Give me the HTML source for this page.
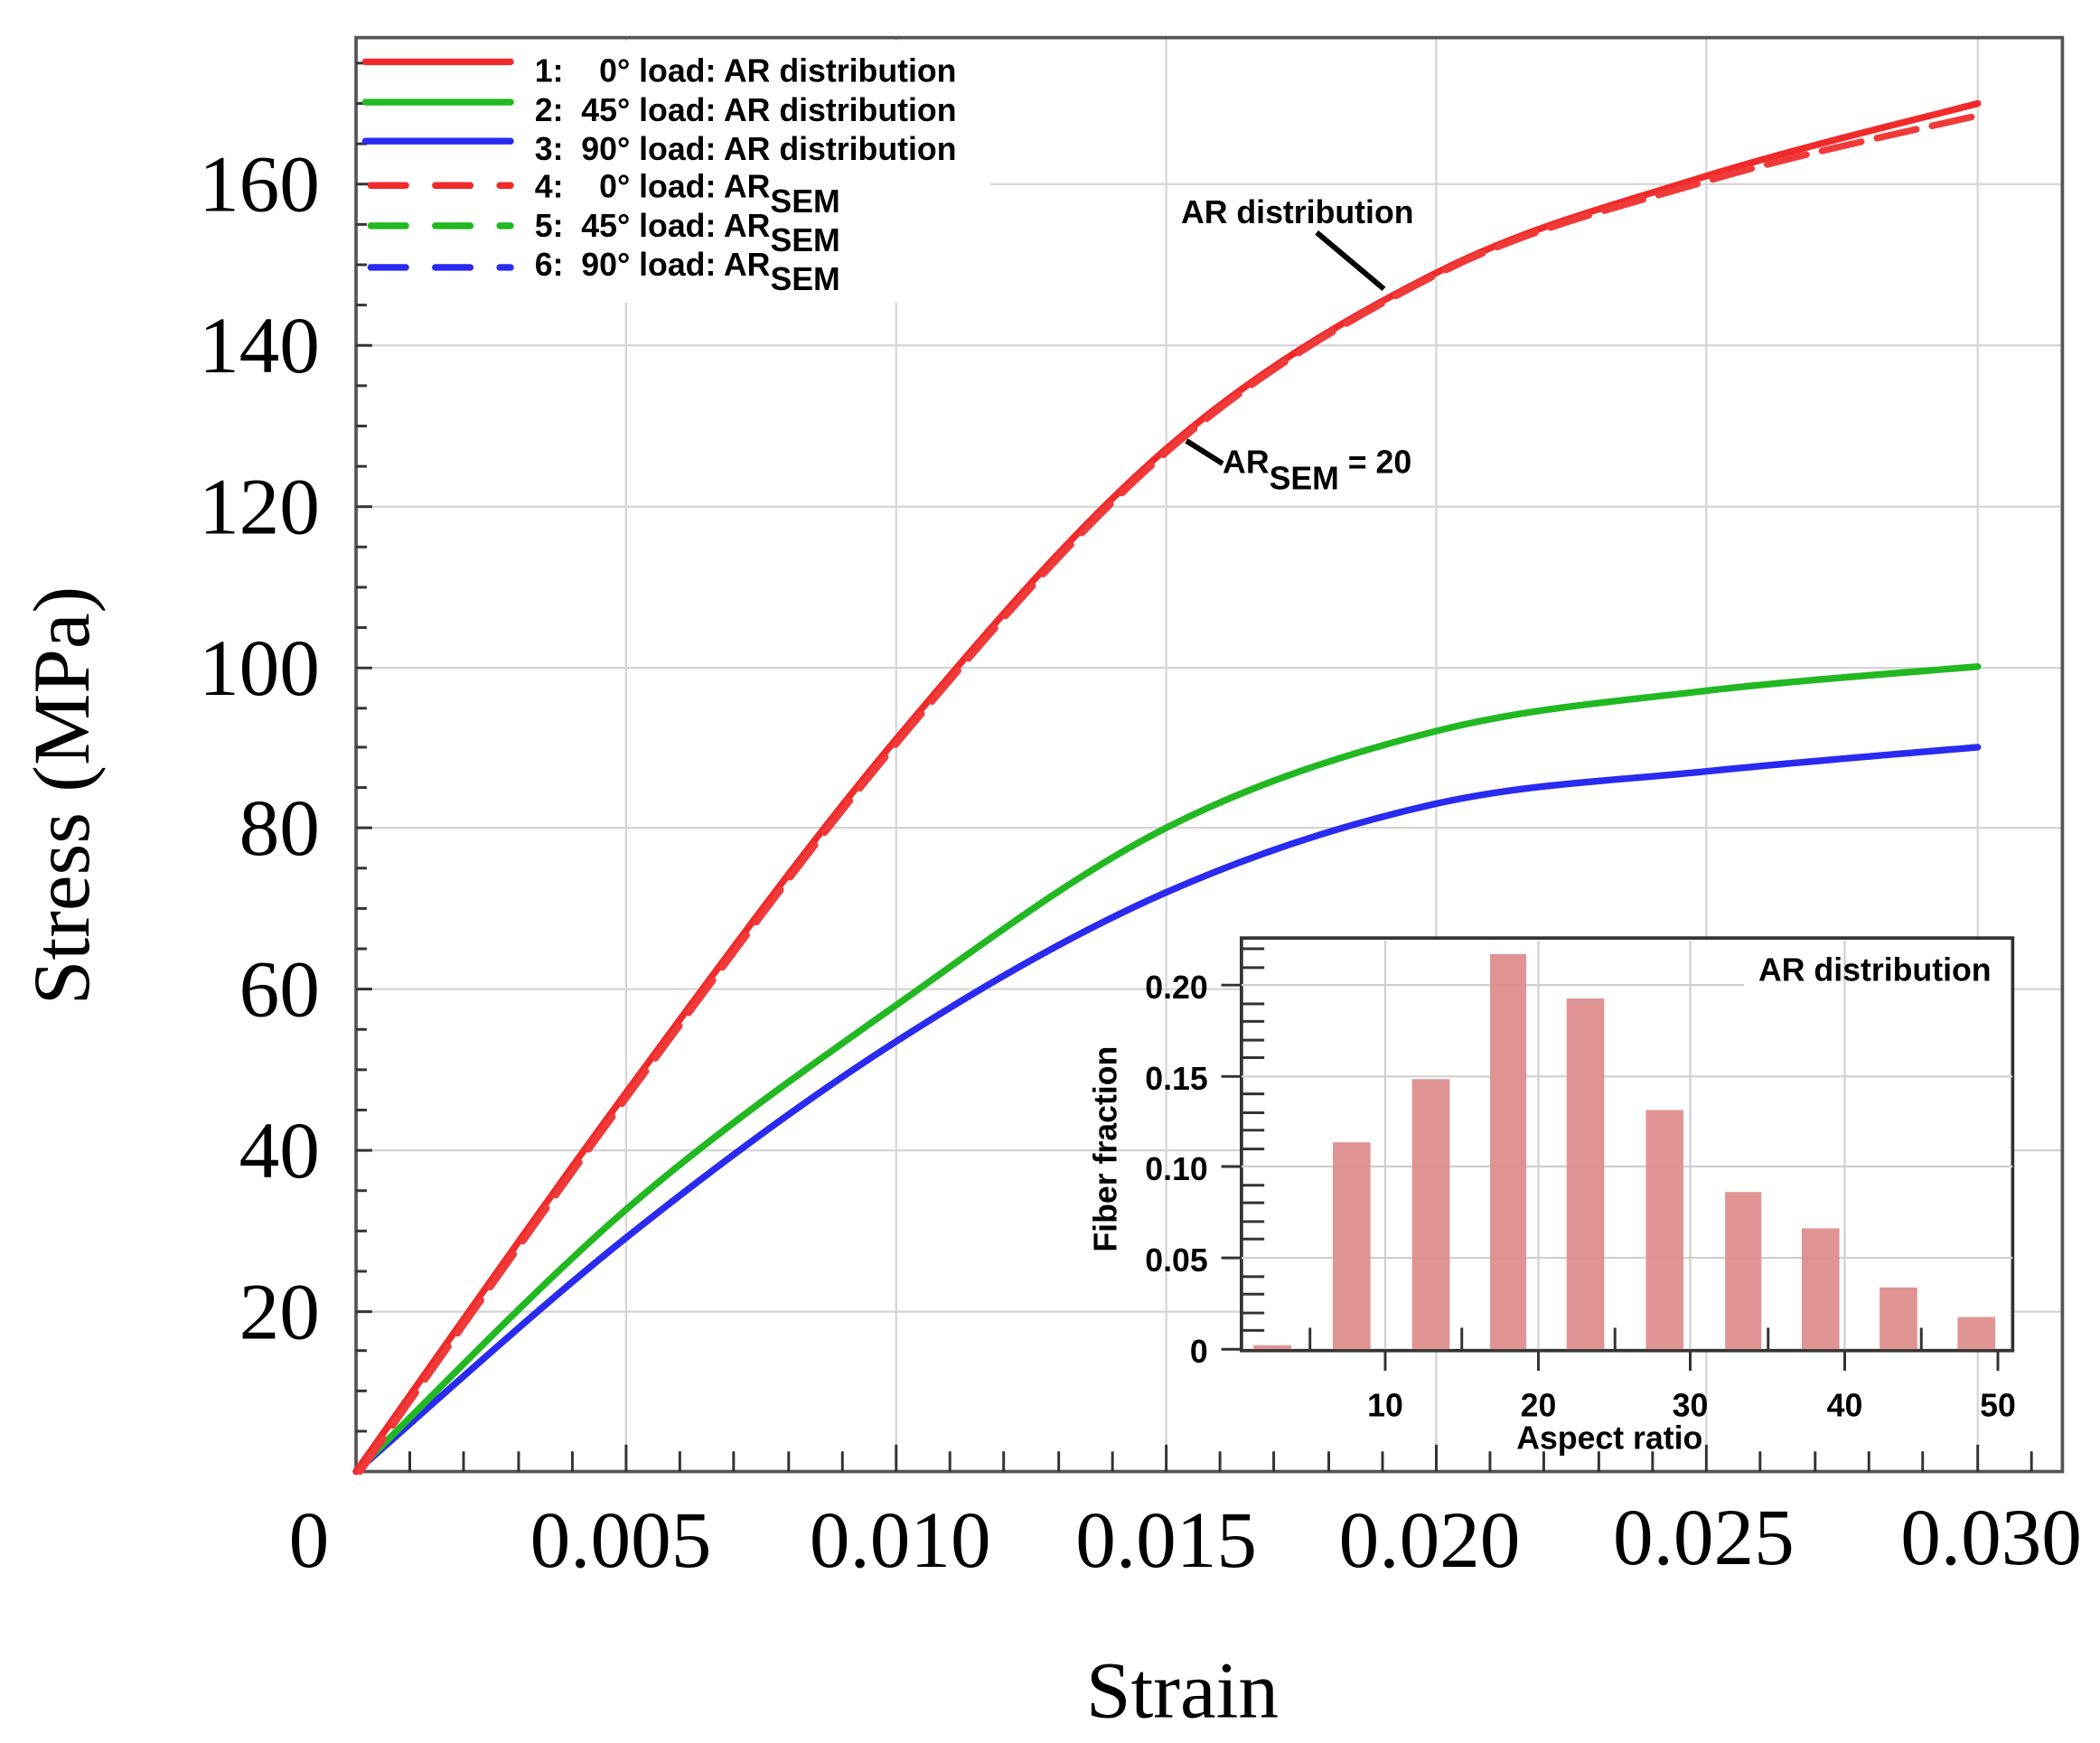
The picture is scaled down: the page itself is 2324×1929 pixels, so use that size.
<!DOCTYPE html>
<html><head><meta charset="utf-8"><style>
html,body{margin:0;padding:0;background:#fff;}
svg{display:block;}
.tl{font-family:"Liberation Serif",serif;font-size:60px;fill:#000;}
.lg{font-family:"Liberation Sans",sans-serif;font-size:24px;font-weight:bold;fill:#000;}
.sm{font-family:"Liberation Sans",sans-serif;font-size:24px;font-weight:bold;fill:#000;}
</style></head><body>
<svg width="2324" height="1929" viewBox="0 0 1563 1297" preserveAspectRatio="none" xmlns="http://www.w3.org/2000/svg">
<rect width="1563" height="1297" fill="#fff"/>
<g stroke="#d4d4d4" stroke-width="1.5">
<line x1="466" y1="28" x2="466" y2="1095"/><line x1="667" y1="28" x2="667" y2="1095"/>
<line x1="868" y1="28" x2="868" y2="1095"/><line x1="1069" y1="28" x2="1069" y2="1095"/>
<line x1="1270" y1="28" x2="1270" y2="1095"/><line x1="1472" y1="28" x2="1472" y2="1095"/>
<line x1="265" y1="976" x2="1535" y2="976"/><line x1="265" y1="856" x2="1535" y2="856"/>
<line x1="265" y1="736" x2="1535" y2="736"/><line x1="265" y1="616" x2="1535" y2="616"/>
<line x1="265" y1="497" x2="1535" y2="497"/><line x1="265" y1="377" x2="1535" y2="377"/>
<line x1="265" y1="257" x2="1535" y2="257"/><line x1="265" y1="137" x2="1535" y2="137"/>
</g>
<rect x="267" y="30" width="470" height="195" fill="#fff"/>
<rect x="265" y="28" width="1270" height="1067" fill="none" stroke="#555" stroke-width="2.5"/>
<g stroke="#333" stroke-width="2">
<line x1="265" y1="1065" x2="273" y2="1065"/><line x1="265" y1="1035" x2="273" y2="1035"/><line x1="265" y1="1005" x2="273" y2="1005"/><line x1="265" y1="976" x2="277" y2="976"/>
<line x1="265" y1="946" x2="273" y2="946"/><line x1="265" y1="916" x2="273" y2="916"/><line x1="265" y1="886" x2="273" y2="886"/><line x1="265" y1="856" x2="277" y2="856"/>
<line x1="265" y1="826" x2="273" y2="826"/><line x1="265" y1="796" x2="273" y2="796"/><line x1="265" y1="766" x2="273" y2="766"/><line x1="265" y1="736" x2="277" y2="736"/>
<line x1="265" y1="706" x2="273" y2="706"/><line x1="265" y1="676" x2="273" y2="676"/><line x1="265" y1="646" x2="273" y2="646"/><line x1="265" y1="616" x2="277" y2="616"/>
<line x1="265" y1="586" x2="273" y2="586"/><line x1="265" y1="556" x2="273" y2="556"/><line x1="265" y1="527" x2="273" y2="527"/><line x1="265" y1="497" x2="277" y2="497"/>
<line x1="265" y1="467" x2="273" y2="467"/><line x1="265" y1="437" x2="273" y2="437"/><line x1="265" y1="407" x2="273" y2="407"/><line x1="265" y1="377" x2="277" y2="377"/>
<line x1="265" y1="347" x2="273" y2="347"/><line x1="265" y1="317" x2="273" y2="317"/><line x1="265" y1="287" x2="273" y2="287"/><line x1="265" y1="257" x2="277" y2="257"/>
<line x1="265" y1="227" x2="273" y2="227"/><line x1="265" y1="197" x2="273" y2="197"/><line x1="265" y1="167" x2="273" y2="167"/><line x1="265" y1="137" x2="277" y2="137"/>
<line x1="265" y1="107" x2="273" y2="107"/><line x1="265" y1="77" x2="273" y2="77"/><line x1="265" y1="47" x2="273" y2="47"/>
</g>
<g stroke="#333" stroke-width="2">
<line x1="305" y1="1095" x2="305" y2="1080"/><line x1="345" y1="1095" x2="345" y2="1080"/><line x1="386" y1="1095" x2="386" y2="1080"/><line x1="426" y1="1095" x2="426" y2="1080"/><line x1="466" y1="1095" x2="466" y2="1075"/>
<line x1="506" y1="1095" x2="506" y2="1080"/><line x1="546" y1="1095" x2="546" y2="1080"/><line x1="587" y1="1095" x2="587" y2="1080"/><line x1="627" y1="1095" x2="627" y2="1080"/><line x1="667" y1="1095" x2="667" y2="1075"/>
<line x1="707" y1="1095" x2="707" y2="1080"/><line x1="747" y1="1095" x2="747" y2="1080"/><line x1="788" y1="1095" x2="788" y2="1080"/><line x1="828" y1="1095" x2="828" y2="1080"/><line x1="868" y1="1095" x2="868" y2="1075"/>
<line x1="908" y1="1095" x2="908" y2="1080"/><line x1="948" y1="1095" x2="948" y2="1080"/><line x1="989" y1="1095" x2="989" y2="1080"/><line x1="1029" y1="1095" x2="1029" y2="1080"/><line x1="1069" y1="1095" x2="1069" y2="1075"/>
<line x1="1109" y1="1095" x2="1109" y2="1080"/><line x1="1149" y1="1095" x2="1149" y2="1080"/><line x1="1190" y1="1095" x2="1190" y2="1080"/><line x1="1230" y1="1095" x2="1230" y2="1080"/><line x1="1270" y1="1095" x2="1270" y2="1075"/>
<line x1="1310" y1="1095" x2="1310" y2="1080"/><line x1="1351" y1="1095" x2="1351" y2="1080"/><line x1="1391" y1="1095" x2="1391" y2="1080"/><line x1="1431" y1="1095" x2="1431" y2="1080"/><line x1="1472" y1="1095" x2="1472" y2="1075"/>
<line x1="1512" y1="1095" x2="1512" y2="1080"/>
</g>
<g fill="none" stroke-width="5" stroke-linejoin="round" stroke-linecap="round">
<path stroke="#2a2af0" d="M265,1095 C298.5,1066 399,974.3 466,921 C533,867.7 600,817.8 667,775 C734,732.2 801,693.5 868,664 C935,634.5 1002,613 1069,598 C1136,583 1202.8,581 1270,574 C1337.2,567 1438.3,559 1472,556"/>
<path stroke="#22b822" d="M265,1095 C298.5,1062.5 399,957.8 466,900 C533,842.2 600,795.3 667,748 C734,700.7 801,650 868,616 C935,582 1002,561 1069,544 C1136,527 1202.8,522 1270,514 C1337.2,506 1438.3,499 1472,496"/>
<path stroke="#f02a2a" d="M265,1095 C298.5,1048 399,903.8 466,813 C533,722.2 600,629.8 667,550 C734,470.2 801,391.8 868,334 C935,276.2 1002,236.8 1069,203 C1136,169.2 1202.8,152 1270,131 C1337.2,110 1438.3,86 1472,77"/>
<path stroke="#f03a3a" stroke-dasharray="30 12" d="M268,1095 C301.5,1048 402,903.8 469,813 C536,722.2 603,629.8 670,550 C737,470.2 804,391.8 871,334 C938,276.2 1005,236.8 1072,203 C1139,169.2 1205.8,154 1273,134 C1340.2,114 1438.3,94 1472,86"/>
</g>
<text x="879" y="166" class="sm">AR distribution</text>
<line x1="980" y1="173" x2="1030" y2="215" stroke="#000" stroke-width="4"/>
<line x1="883" y1="328" x2="910" y2="345" stroke="#000" stroke-width="4"/>
<text x="910" y="352" class="sm" font-size="21">AR<tspan dy="12">SEM</tspan><tspan dy="-12"> = 20</tspan></text>
<g stroke-width="5" stroke-linecap="round">
<line x1="272" y1="46" x2="380" y2="46" stroke="#f02a2a"/>
<line x1="272" y1="76" x2="380" y2="76" stroke="#22b822"/>
<line x1="272" y1="105" x2="380" y2="105" stroke="#2a2af0"/>
<line x1="276" y1="138" x2="380" y2="138" stroke="#f02a2a" stroke-dasharray="26 22"/>
<line x1="276" y1="168" x2="380" y2="168" stroke="#22b822" stroke-dasharray="26 22"/>
<line x1="276" y1="199" x2="380" y2="199" stroke="#2a2af0" stroke-dasharray="26 22"/>
</g>
<text x="398" y="61" class="lg">1:&#160;&#160;&#160; 0° load: AR distribution</text>
<text x="398" y="90" class="lg">2:&#160; 45° load: AR distribution</text>
<text x="398" y="119" class="lg">3:&#160; 90° load: AR distribution</text>
<text x="398" y="147" class="lg">4:&#160;&#160;&#160; 0° load: AR<tspan dy="11">SEM</tspan></text>
<text x="398" y="176" class="lg">5:&#160; 45° load: AR<tspan dy="11">SEM</tspan></text>
<text x="398" y="205" class="lg">6:&#160; 90° load: AR<tspan dy="11">SEM</tspan></text>
<g class="tl" text-anchor="end">
<text x="238" y="996">20</text><text x="238" y="876">40</text><text x="238" y="756">60</text>
<text x="238" y="636">80</text><text x="238" y="517">100</text><text x="238" y="397">120</text>
<text x="238" y="277">140</text><text x="238" y="157">160</text>
</g>
<g class="tl" text-anchor="middle">
<text x="230" y="1166">0</text><text x="462" y="1166">0.005</text><text x="670" y="1166">0.010</text>
<text x="868" y="1166">0.015</text><text x="1064" y="1166">0.020</text><text x="1268" y="1164">0.025</text><text x="1482" y="1164">0.030</text>
</g>
<text class="tl" x="880" y="1278" text-anchor="middle" font-size="64">Strain</text>
<text class="tl" transform="translate(66,592) rotate(-90)" text-anchor="middle" font-size="64">Stress (MPa)</text>
<rect x="924" y="698" width="574" height="307" fill="#fff" stroke="#333" stroke-width="2.5"/>
<g stroke="#cfcfcf" stroke-width="1.5">
<line x1="1031" y1="700" x2="1031" y2="1004"/><line x1="1145" y1="700" x2="1145" y2="1004"/>
<line x1="1258" y1="700" x2="1258" y2="1004"/><line x1="1373" y1="700" x2="1373" y2="1004"/>
<line x1="924" y1="936" x2="1498" y2="936"/><line x1="924" y1="868" x2="1498" y2="868"/>
<line x1="924" y1="801" x2="1498" y2="801"/><line x1="924" y1="733" x2="1298" y2="733"/>
</g>
<g fill="#df8e8e" opacity="0.95">
<rect x="933" y="1001" width="28" height="3"/>
<rect x="992" y="850" width="28" height="154"/>
<rect x="1051" y="803" width="28" height="201"/>
<rect x="1109" y="710" width="27" height="294"/>
<rect x="1166" y="743" width="28" height="261"/>
<rect x="1225" y="826" width="28" height="178"/>
<rect x="1284" y="887" width="27" height="117"/>
<rect x="1341" y="914" width="28" height="90"/>
<rect x="1399" y="958" width="28" height="46"/>
<rect x="1457" y="980" width="28" height="24"/>
</g>
<g stroke="#333" stroke-width="2">
<line x1="924" y1="1005" x2="1498" y2="1005"/>
<line x1="909" y1="1004" x2="924" y2="1004"/><line x1="909" y1="936" x2="924" y2="936"/><line x1="909" y1="868" x2="924" y2="868"/><line x1="909" y1="801" x2="924" y2="801"/><line x1="909" y1="733" x2="924" y2="733"/>
<line x1="924" y1="990" x2="941" y2="990"/><line x1="924" y1="977" x2="941" y2="977"/><line x1="924" y1="963" x2="941" y2="963"/><line x1="924" y1="950" x2="941" y2="950"/>
<line x1="924" y1="922" x2="941" y2="922"/><line x1="924" y1="909" x2="941" y2="909"/><line x1="924" y1="895" x2="941" y2="895"/><line x1="924" y1="882" x2="941" y2="882"/>
<line x1="924" y1="855" x2="941" y2="855"/><line x1="924" y1="841" x2="941" y2="841"/><line x1="924" y1="828" x2="941" y2="828"/><line x1="924" y1="814" x2="941" y2="814"/>
<line x1="924" y1="787" x2="941" y2="787"/><line x1="924" y1="774" x2="941" y2="774"/><line x1="924" y1="760" x2="941" y2="760"/><line x1="924" y1="747" x2="941" y2="747"/>
<line x1="924" y1="720" x2="941" y2="720"/><line x1="924" y1="706" x2="941" y2="706"/>
<line x1="1031" y1="1005" x2="1031" y2="1020"/><line x1="1145" y1="1005" x2="1145" y2="1020"/><line x1="1258" y1="1005" x2="1258" y2="1020"/><line x1="1373" y1="1005" x2="1373" y2="1020"/><line x1="1487" y1="1005" x2="1487" y2="1020"/>
<line x1="975" y1="1005" x2="975" y2="988"/><line x1="1088" y1="1005" x2="1088" y2="988"/><line x1="1202" y1="1005" x2="1202" y2="988"/><line x1="1316" y1="1005" x2="1316" y2="988"/><line x1="1430" y1="1005" x2="1430" y2="988"/>
</g>
<g class="sm" text-anchor="end" font-size="26">
<text x="899" y="1014">0</text><text x="899" y="946">0.05</text><text x="899" y="878">0.10</text><text x="899" y="811">0.15</text><text x="899" y="743">0.20</text>
</g>
<g class="sm" text-anchor="middle" font-size="28">
<text x="1031" y="1054">10</text><text x="1145" y="1054">20</text><text x="1258" y="1054">30</text><text x="1373" y="1054">40</text><text x="1487" y="1054">50</text>
</g>
<text class="sm" x="1198" y="1078" text-anchor="middle" font-size="22">Aspect ratio</text>
<text class="sm" transform="translate(831,855) rotate(-90)" text-anchor="middle" font-size="21">Fiber fraction</text>
<text class="sm" x="1482" y="730" text-anchor="end" font-size="25">AR distribution</text>
</svg>
</body></html>
